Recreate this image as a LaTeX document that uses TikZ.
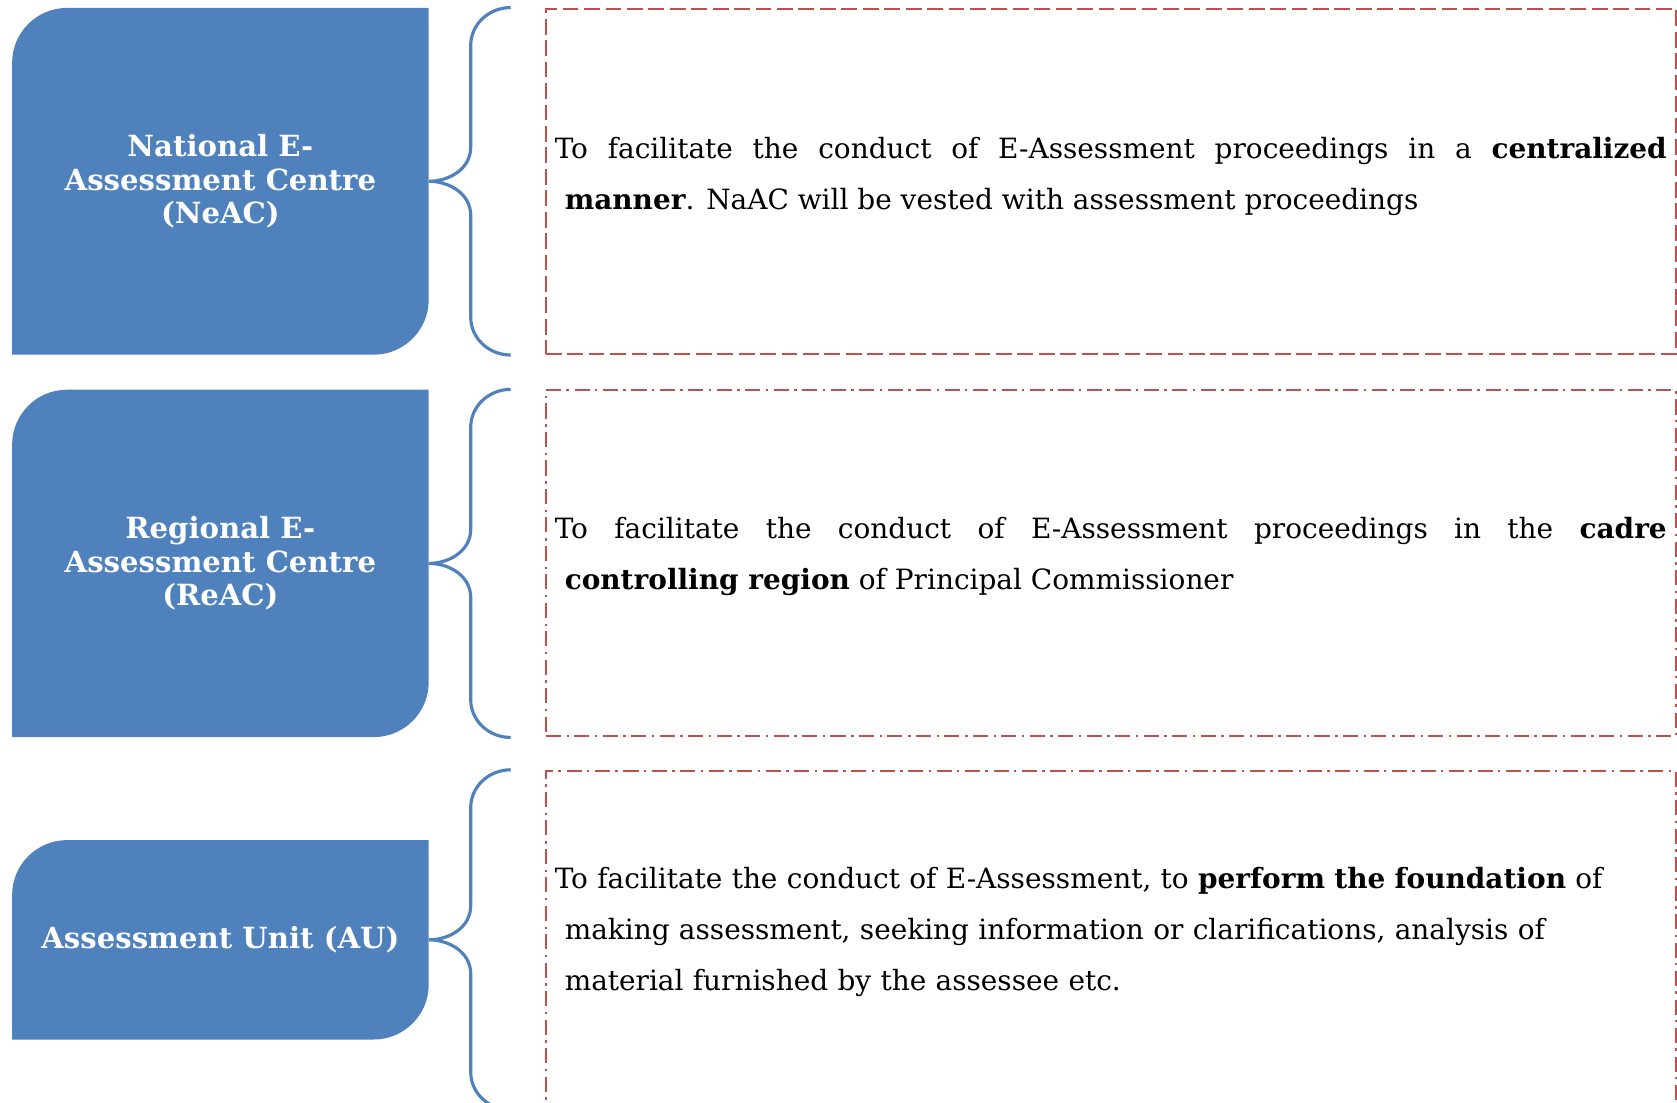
\documentclass[tikz,border=0pt]{standalone}
\usepackage{fontspec}
\setmainfont{DejaVu Serif}
\usepackage{tikz}
\usetikzlibrary{positioning,calc,backgrounds}

\definecolor{blu}{HTML}{4F81BD}
\definecolor{rosso}{HTML}{C0504D}

\begin{document}
\begin{tikzpicture}[
    box/.style={minimum width=4.152cm, inner sep=0pt, align=center, text=white,
      font=\bfseries\fontsize{8.3}{9.6}\selectfont},
    cornice/.style={draw=rosso, line width=0.6pt, inner xsep=0.09cm, inner ysep=0pt,
      text width=11.12cm, align=justify, font=\fontsize{7.95}{14.5}\selectfont},
    tratteggio/.style={dash pattern=on 4.5pt off 1.6pt},
    puntolinea/.style={dash pattern=on 4.3pt off 1.6pt on 0.7pt off 1.5pt},
    graffa/.style={draw=blu, line width=0.9pt}
  ]
  \useasboundingbox (0,0) rectangle (16.77,-11.03);
  \clip (0,0) rectangle (16.77,-11.03);

  % Riquadri blu
  \node[box, minimum height=3.454cm] (neac) at (2.204,-1.813) {National E-\\Assessment Centre\\(NeAC)};
  \node[box, minimum height=3.46cm, below=0.35cm of neac] (reac) {Regional E-\\Assessment Centre\\(ReAC)};
  \node[box, minimum height=1.98cm, below=1.03cm of reac] (au) {Assessment Unit (AU)};

  \begin{scope}[on background layer]
    \foreach \n in {neac,reac,au}
      \fill[blu] (\n.south west) -- ([yshift=-5.5mm]\n.north west)
        arc[start angle=180, end angle=90, radius=5.5mm] -- (\n.north east)
        -- ([yshift=5.5mm]\n.south east) arc[start angle=0, end angle=-90, radius=5.5mm] -- cycle;
  \end{scope}

  % Riquadri tratteggiati con le descrizioni
  \node[cornice, tratteggio, minimum height=3.454cm, right=1.16cm of neac] (fneac)
    {To facilitate the conduct of E-Assessment proceedings in a \textbf{centralized}\linebreak
     \hspace*{0.1cm}\textbf{manner}. NaAC will be vested with assessment proceedings\par\kern0.09cm};
  \node[cornice, puntolinea, minimum height=3.46cm, right=1.16cm of reac] (freac)
    {To facilitate the conduct of E-Assessment proceedings in the \textbf{cadre}\linebreak
     \hspace*{0.1cm}\textbf{controlling region} of Principal Commissioner\par\kern0.13cm};
  \node[cornice, puntolinea, align=left, minimum height=3.38cm, right=1.16cm of au] (fau)
    {To facilitate the conduct of E-Assessment, to \textbf{perform the foundation} of\\
     \hspace*{0.1cm}making assessment, seeking information or clarifications, analysis of\\
     \hspace*{0.1cm}material furnished by the assessee etc.\par\kern0.15cm};

  % Graffe
  \draw[graffa] ([xshift=-3.4mm]fneac.north west) to[out=180,in=90] ($(neac.east |- fneac.north)+(4.2mm,-3.8mm)$)
    -- ($(neac.east)+(4.2mm,3.4mm)$) to[out=-90,in=0] (neac.east)
    to[out=0,in=90] ($(neac.east)+(4.2mm,-3.4mm)$) -- ($(neac.east |- fneac.south)+(4.2mm,3.8mm)$)
    to[out=-90,in=180] ([xshift=-3.4mm]fneac.south west);
  \draw[graffa] ([xshift=-3.4mm]freac.north west) to[out=180,in=90] ($(reac.east |- freac.north)+(4.2mm,-3.8mm)$)
    -- ($(reac.east)+(4.2mm,3.4mm)$) to[out=-90,in=0] (reac.east)
    to[out=0,in=90] ($(reac.east)+(4.2mm,-3.4mm)$) -- ($(reac.east |- freac.south)+(4.2mm,3.8mm)$)
    to[out=-90,in=180] ([xshift=-3.4mm]freac.south west);
  \draw[graffa] ([xshift=-3.4mm]fau.north west) to[out=180,in=90] ($(au.east |- fau.north)+(4.2mm,-3.8mm)$)
    -- ($(au.east)+(4.2mm,3.4mm)$) to[out=-90,in=0] (au.east)
    to[out=0,in=90] ($(au.east)+(4.2mm,-3.4mm)$) -- ($(au.east |- fau.south)+(4.2mm,3.8mm)$)
    to[out=-90,in=180] ([xshift=-3.4mm]fau.south west);
\end{tikzpicture}
\end{document}
